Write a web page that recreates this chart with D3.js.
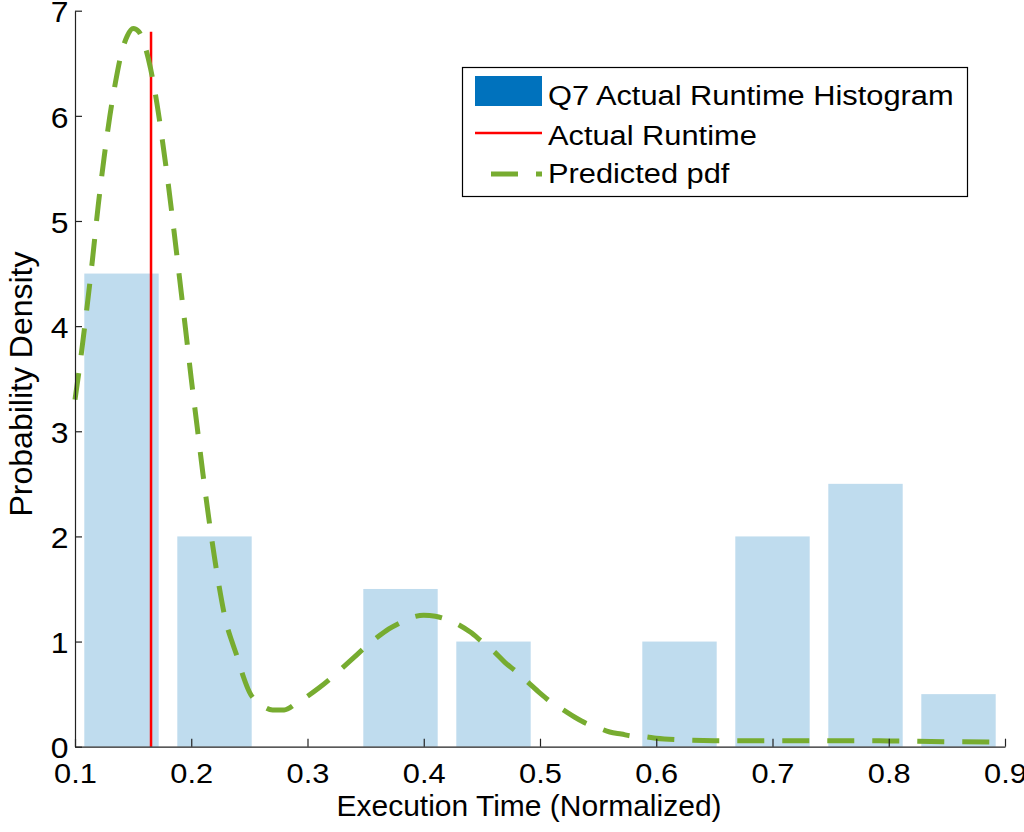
<!DOCTYPE html>
<html>
<head>
<meta charset="utf-8">
<script src="https://cdn.jsdelivr.net/npm/d3@7"></script>
<style>
  body { margin: 0; background: #fff; }
  text { font-family: "Liberation Sans", Arial, sans-serif; fill: #000; }
</style>
</head>
<body>
<div id="chart"></div>
<script>
// Histogram bins (centres) and density of each bin
let binCenters = [0.14, 0.22, 0.30, 0.38, 0.46, 0.54, 0.62, 0.70, 0.78, 0.86];
let binDensity = [4.5, 2, 0, 1.5, 1, 0, 1, 2, 2.5, 0.5];
let binWidth = 0.08;

// Actual runtime marker
let actualRuntime = 0.1654;
let actualTop = 6.8;

// Predicted pdf
let pdfX = [0.100, 0.105, 0.110, 0.115, 0.120, 0.125, 0.130, 0.135, 0.140, 0.145,
            0.150, 0.155, 0.160, 0.165, 0.170, 0.175, 0.180, 0.185, 0.190, 0.195,
            0.200, 0.205, 0.210, 0.215, 0.220, 0.225, 0.230, 0.235, 0.240, 0.245,
            0.250, 0.260, 0.270, 0.280, 0.290, 0.300, 0.310, 0.320, 0.330, 0.340,
            0.350, 0.360, 0.370, 0.380, 0.390, 0.400, 0.410, 0.420, 0.430, 0.440,
            0.450, 0.460, 0.470, 0.480, 0.490, 0.500, 0.510, 0.520, 0.530, 0.540,
            0.550, 0.560, 0.570, 0.580, 0.590, 0.600, 0.620, 0.650, 0.700, 0.750,
            0.800, 0.850, 0.900];
let pdfY = [3.30, 3.70, 4.15, 4.63, 5.15, 5.60, 6.00, 6.33, 6.60, 6.76,
            6.83, 6.80, 6.67, 6.45, 6.15, 5.78, 5.37, 4.92, 4.45, 3.98,
            3.50, 3.05, 2.60, 2.18, 1.80, 1.46, 1.18, 1.00, 0.84, 0.66,
            0.52, 0.40, 0.35, 0.35, 0.41, 0.48, 0.56, 0.65, 0.75, 0.85,
            0.95, 1.04, 1.12, 1.18, 1.23, 1.25, 1.24, 1.21, 1.16, 1.09,
            1.00, 0.91, 0.80, 0.71, 0.61, 0.51, 0.42, 0.35, 0.28, 0.22,
            0.18, 0.14, 0.12, 0.10, 0.095, 0.08, 0.065, 0.057, 0.057, 0.057,
            0.055, 0.048, 0.045];

let xTicks = [0.1, 0.2, 0.3, 0.4, 0.5, 0.6, 0.7, 0.8, 0.9];
let yTicks = [0, 1, 2, 3, 4, 5, 6, 7];

let legendLabels = ["Q7 Actual Runtime Histogram", "Actual Runtime", "Predicted pdf"];

let width = 1024;
let height = 832;

let svg = d3.select("#chart")
    .append("svg")
    .attr("width", width)
    .attr("height", height)

let xScale = d3.scaleLinear()
    .domain([0.1, 0.9])
    .range([75, 1005])

let yScale = d3.scaleLinear()
    .domain([0, 7])
    .range([746.7, 10.7])

// bars
let bins = binCenters.map((c, i) => ({c: c, d: binDensity[i]}))
svg.append("g")
    .selectAll("rect")
    .data(bins.filter(d => d.d > 0))
    .enter()
    .append("rect")
    .attr("x", d => xScale(d.c - binWidth * 0.4))
    .attr("width", d => xScale(d.c + binWidth * 0.4) - xScale(d.c - binWidth * 0.4))
    .attr("y", d => yScale(d.d))
    .attr("height", d => yScale(0) - yScale(d.d))
    .attr("fill", "#0072bd")
    .attr("fill-opacity", 0.25)

// actual runtime line
svg.append("line")
    .attr("x1", xScale(actualRuntime))
    .attr("x2", xScale(actualRuntime))
    .attr("y1", yScale(0))
    .attr("y2", yScale(actualTop))
    .attr("stroke", "#ff0000")
    .attr("stroke-width", 2.5)

// predicted pdf
let line = d3.line()
    .curve(d3.curveMonotoneX)
    .x((d, i) => xScale(pdfX[i]))
    .y(d => yScale(d))

svg.append("path")
    .datum(pdfY)
    .attr("d", line)
    .attr("fill", "none")
    .attr("stroke", "#77ac30")
    .attr("stroke-width", 5)
    .attr("stroke-dasharray", "27,18")

// axes
let xAxis = d3.axisBottom(xScale)
    .tickValues(xTicks)
    .tickFormat(d3.format(".1f"))
    .tickSizeInner(-8)
    .tickSizeOuter(0)
    .tickPadding(16)

let yAxis = d3.axisLeft(yScale)
    .tickValues(yTicks)
    .tickFormat(d3.format("d"))
    .tickSizeInner(-7)
    .tickSizeOuter(0)
    .tickPadding(6)

let gx = svg.append("g")
    .attr("transform", "translate(0," + yScale(0) + ")")
    .call(xAxis)
gx.selectAll("text")
    .style("font-size", "28px")
    .attr("transform", "scale(1.1,1)")

let gy = svg.append("g")
    .attr("transform", "translate(" + xScale(0.1) + ",0)")
    .call(yAxis)
gy.selectAll("text")
    .style("font-size", "29px")
    .attr("y", 2)
    .attr("transform", "scale(1.1,1)")

svg.selectAll(".domain, .tick line")
    .attr("stroke", "#222")
    .attr("stroke-width", 1.2)

// axis titles
svg.append("text")
    .attr("x", 529)
    .attr("y", 816)
    .attr("text-anchor", "middle")
    .style("font-size", "30px")
    .text("Execution Time (Normalized)")

svg.append("text")
    .attr("transform", "translate(32,384) rotate(-90)")
    .attr("text-anchor", "middle")
    .style("font-size", "32px")
    .text("Probability Density")

// legend
let legend = svg.append("g")

legend.append("rect")
    .attr("x", 462.5)
    .attr("y", 67.5)
    .attr("width", 505)
    .attr("height", 129)
    .attr("fill", "#fff")
    .attr("stroke", "#000")
    .attr("stroke-width", 1.2)

legend.append("rect")
    .attr("x", 475)
    .attr("y", 76)
    .attr("width", 67)
    .attr("height", 30)
    .attr("fill", "#0072bd")

legend.append("line")
    .attr("x1", 475).attr("x2", 542)
    .attr("y1", 133).attr("y2", 133)
    .attr("stroke", "#ff0000")
    .attr("stroke-width", 2.5)

legend.append("line")
    .attr("x1", 475).attr("x2", 542)
    .attr("y1", 174).attr("y2", 174)
    .attr("stroke", "#77ac30")
    .attr("stroke-width", 5)
    .attr("stroke-dasharray", "27,18")
    .attr("stroke-dashoffset", 29)

let legendBase = [105, 145, 183]
legend.selectAll(".ltext")
    .data(legendLabels)
    .enter()
    .append("text")
    .attr("class", "ltext")
    .attr("transform", (d, i) => "translate(548," + legendBase[i] + ") scale(1.1,1)")
    .style("font-size", "28px")
    .text(d => d)
</script>
</body>
</html>
